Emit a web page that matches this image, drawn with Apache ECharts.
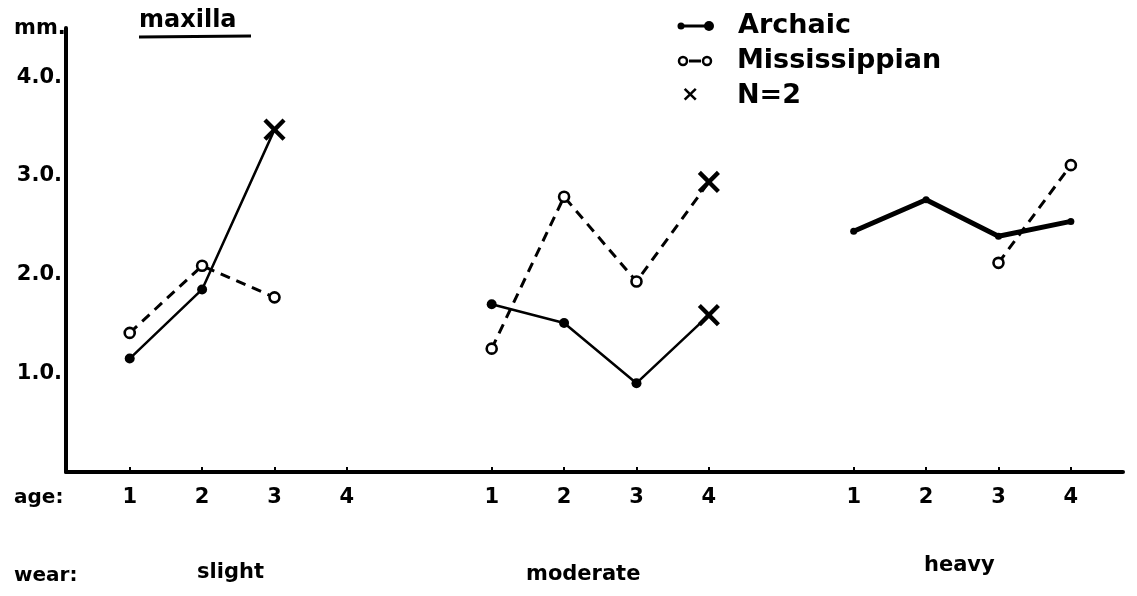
<!DOCTYPE html>
<html>
<head>
<meta charset="utf-8">
<script src="https://cdn.jsdelivr.net/npm/echarts@6/dist/echarts.min.js"></script>
<style>
  html, body { margin: 0; padding: 0; background: #fff; }
  #chart { width: 1137px; height: 596px; }
</style>
</head>
<body>
<div id="chart"></div>
<script>
// Age classes within each wear group, and the wear groups themselves
const ageLabels = ['1', '2', '3', '4'];
const wearLabels = ['slight', 'moderate', 'heavy'];
const yTickValues = [1, 2, 3, 4];

// Mean values (mm) by age class, per wear group
const archaicSlight = [1.15, 1.85, 3.47, null];
const archaicModerate = [1.70, 1.51, 0.90, 1.59];
const archaicHeavy = [2.44, 2.76, 2.39, 2.54];

const mississippianSlight = [1.41, 2.09, 1.77, null];
const mississippianModerate = [1.25, 2.79, 1.93, 2.94];
const mississippianHeavy = [null, null, 2.12, 3.11];

// Points based on only two individuals: [population, wear, age]
const smallSamplePoints = [
  ['Archaic', 'slight', '3'],
  ['Archaic', 'moderate', '4'],
  ['Mississippian', 'moderate', '4']
];

const FONT = 'DejaVu Sans';
const GROUP_STRIDE = 5; // four age slots plus one empty slot between groups

function slotOf(wear, age) {
  return wearLabels.indexOf(wear) * GROUP_STRIDE + ageLabels.indexOf(age);
}

const valuesBy = {
  Archaic: { slight: archaicSlight, moderate: archaicModerate, heavy: archaicHeavy },
  Mississippian: { slight: mississippianSlight, moderate: mississippianModerate, heavy: mississippianHeavy }
};

function isSmall(pop, wear, age) {
  return smallSamplePoints.some(p => p[0] === pop && p[1] === wear && p[2] === age);
}

function groupData(pop, wear) {
  const vals = valuesBy[pop][wear];
  const out = [];
  vals.forEach((v, i) => {
    if (v === null) return;
    const age = ageLabels[i];
    const item = { value: [slotOf(wear, age), v] };
    if (isSmall(pop, wear, age)) item.symbol = 'none';
    out.push(item);
  });
  return out;
}

const smallData = smallSamplePoints.map(([pop, wear, age]) =>
  [slotOf(wear, age), valuesBy[pop][wear][ageLabels.indexOf(age)]]);

const labelSlots = [];
wearLabels.forEach((w, wi) => ageLabels.forEach((a, ai) => labelSlots.push(wi * GROUP_STRIDE + ai)));

const series = [];
wearLabels.forEach(wear => {
  series.push({
    name: 'Archaic',
    type: 'line',
    data: groupData('Archaic', wear),
    symbol: 'circle',
    symbolSize: wear === 'heavy' ? 7 : 10,
    lineStyle: { color: '#000', width: wear === 'heavy' ? 5 : 2.5 },
    itemStyle: { color: '#000' },
    z: 3
  });
  series.push({
    name: 'Mississippian',
    type: 'line',
    data: groupData('Mississippian', wear),
    symbol: 'circle',
    symbolSize: 10,
    lineStyle: { color: '#000', width: 3, type: [10, 7] },
    itemStyle: { color: '#fff', borderColor: '#000', borderWidth: 2.6 },
    z: 4
  });
});
series.push({
  name: 'N=2',
  type: 'scatter',
  data: smallData,
  symbol: 'path://M4.2,0H5.8V4.2H10V5.8H5.8V10H4.2V5.8H0V4.2H4.2Z',
  symbolSize: 27,
  symbolRotate: 45,
  itemStyle: { color: '#000', opacity: 1 },
  z: 5
});

const chart = echarts.init(document.getElementById('chart'), null, { renderer: 'canvas' });

const textStyle = (size) => ({ fill: '#000', font: `bold ${size}px "${FONT}"` });

chart.setOption({
  animation: false,
  backgroundColor: '#fff',
  grid: { left: 66, right: 14, top: 28, bottom: 124 },
  xAxis: {
    type: 'value',
    min: -0.88,
    max: 13.72,
    axisLine: { lineStyle: { color: '#000', width: 4 } },
    axisTick: { show: true, inside: true, length: 5, customValues: labelSlots, lineStyle: { color: '#000', width: 2 } },
    axisLabel: {
      customValues: labelSlots,
      formatter: v => ageLabels[Math.round(v) % GROUP_STRIDE],
      color: '#000', fontFamily: FONT, fontWeight: 'bold', fontSize: 21, margin: 15
    },
    splitLine: { show: false }
  },
  yAxis: {
    type: 'value',
    min: 0,
    max: 4.5,
    axisLine: { show: true, onZero: false, lineStyle: { color: '#000', width: 4 } },
    axisTick: { show: false },
    axisLabel: {
      customValues: yTickValues,
      formatter: v => v.toFixed(1) + '.',
      color: '#000', fontFamily: FONT, fontWeight: 'bold', fontSize: 21, margin: 4
    },
    splitLine: { show: false }
  },
  series: series,
  graphic: [
    // axis unit
    { type: 'text', left: 14, top: 18, style: Object.assign({ text: 'mm.' }, textStyle(21)) },
    // panel title with underline
    { type: 'text', left: 139, top: 9, style: Object.assign({ text: 'maxilla' }, textStyle(24)) },
    { type: 'line', shape: { x1: 139, y1: 37, x2: 251, y2: 36 }, style: { stroke: '#000', lineWidth: 3 } },
    // key: Archaic
    { type: 'line', shape: { x1: 681, y1: 26, x2: 708, y2: 26 }, style: { stroke: '#000', lineWidth: 3 } },
    { type: 'circle', shape: { cx: 681, cy: 26, r: 3.5 }, style: { fill: '#000' } },
    { type: 'circle', shape: { cx: 709, cy: 26, r: 5 }, style: { fill: '#000' } },
    { type: 'text', left: 738, top: 12, style: Object.assign({ text: 'Archaic' }, textStyle(27)) },
    // key: Mississippian
    { type: 'line', shape: { x1: 689, y1: 61, x2: 701, y2: 61 }, style: { stroke: '#000', lineWidth: 3 } },
    { type: 'circle', shape: { cx: 683, cy: 61, r: 4 }, style: { fill: '#fff', stroke: '#000', lineWidth: 2.5 } },
    { type: 'circle', shape: { cx: 707, cy: 61, r: 4 }, style: { fill: '#fff', stroke: '#000', lineWidth: 2.5 } },
    { type: 'text', left: 737, top: 47, style: Object.assign({ text: 'Mississippian' }, textStyle(27)) },
    // key: N=2
    { type: 'text', left: 681, top: 84, style: Object.assign({ text: '×' }, textStyle(22)) },
    { type: 'text', left: 737, top: 82, style: Object.assign({ text: 'N=2' }, textStyle(27)) },
    // axis captions
    { type: 'text', left: 14, top: 488, style: Object.assign({ text: 'age:' }, textStyle(20)) },
    { type: 'text', left: 14, top: 566, style: Object.assign({ text: 'wear:' }, textStyle(20)) },
    { type: 'text', left: 197, top: 562, style: Object.assign({ text: wearLabels[0] }, textStyle(21)) },
    { type: 'text', left: 526, top: 564, style: Object.assign({ text: wearLabels[1] }, textStyle(21)) },
    { type: 'text', left: 924, top: 555, style: Object.assign({ text: wearLabels[2] }, textStyle(21)) }
  ]
});
</script>
</body>
</html>
